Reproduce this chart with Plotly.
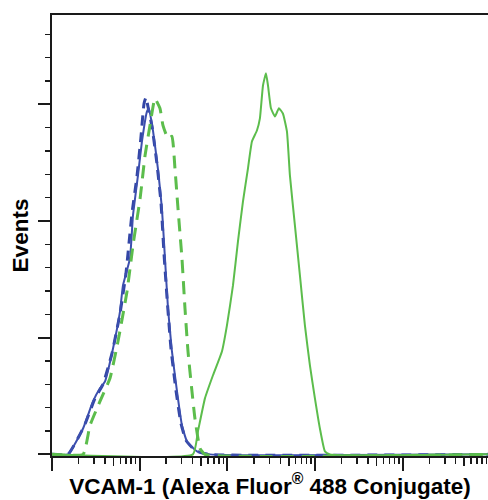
import plotly.graph_objects as go

# ---- data (fluorescence intensity, events) ----
blue_solid_x = [1, 1.52, 2.26, 2.93, 3.52, 4.02, 4.96, 5.96, 6.44, 7.74, 8.38, 9.55, 10.6, 12.1, 12.7,
                14.2, 16.1, 17.9, 19.4, 21.0, 23.3, 26.6, 30.3, 34.5, 44.9, 63.1, 93000]
blue_solid_y = [0, 0, 11.1, 22.7, 28.3, 31.3, 45.4, 61.3, 72.4, 84.0, 102.4, 119.6, 134.1, 147.0, 148.3,
                138.4, 122.6, 105.4, 84.0, 62.6, 44.1, 27.0, 12.4, 5.6, 1.3, 0, 0]

blue_dash_x = [1, 1.52, 2.32, 3.09, 3.81, 4.83, 5.96, 6.97, 8.16, 9.30, 10.3, 11.2, 11.8, 12.4, 13.8,
               15.7, 17.5, 18.9, 20.5, 22.7, 25.9, 29.5, 33.7, 42.6, 60.0, 93000]
blue_dash_y = [0, 0, 12.0, 24.0, 30.0, 43.3, 60.4, 77.6, 103.3, 119.1, 135.4, 150.4, 153.0, 149.1, 140.5,
               124.7, 107.6, 86.1, 66.8, 45.4, 27.4, 13.3, 6.0, 1.7, 0, 0]

green_dash_x = [1, 2.26, 2.71, 3.52, 4.58, 5.65, 7.16, 8.38, 10.1, 11.5, 13.1, 14.9, 17.0, 18.4, 21.0,
                23.3, 25.2, 27.3, 30.3, 32.8, 35.5, 39.4, 42.6, 48.6, 55.4, 93000]
green_dash_y = [0, 0, 12.4, 22.7, 32.6, 48.4, 69.8, 89.6, 109.7, 128.1, 141.0, 152.5, 148.3, 141.0, 135.4,
                136.3, 122.6, 105.4, 84.0, 62.6, 44.1, 27.0, 15.4, 2.6, 0, 0]

green_solid_x = [1, 40.4, 46.1, 55.4, 68.4, 86.5, 98.7, 115.6, 131.8, 150.3, 171.4, 190.1, 216.8, 234.4,
                 254.1, 274.8, 289.7, 313.3, 347.6, 386.4, 428.6, 476.4, 515.2, 587.5, 669.9, 763.8,
                 871.0, 993.1, 1132, 1291, 1472, 93000]
green_solid_y = [0, 0, 9.9, 24.0, 33.9, 44.1, 55.3, 72.4, 91.3, 108.4, 122.6, 134.1, 138.8, 144.0,
                 158.1, 163.3, 158.1, 148.3, 144.8, 148.3, 146.1, 138.4, 119.6, 98.1, 76.7, 55.3,
                 38.1, 24.0, 11.1, 1.3, 0, 0]

mid_tick_vals = [5, 50, 500, 5000, 50000]

x_title = "VCAM-1 (Alexa Fluor<sup>®</sup> 488 Conjugate)"
y_title = "Events"

BLUE = "#3c4fae"
BLUE_D = "#3346a6"
GREEN = "#5cbd4c"
FONT = "Liberation Sans, Arial, sans-serif"
AX = "#1a1a1a"

fig = go.Figure()
fig.add_trace(go.Scatter(x=blue_dash_x, y=blue_dash_y, mode="lines",
                         line=dict(color=BLUE_D, width=3, dash="10px,7px", shape="spline", smoothing=0.4)))
fig.add_trace(go.Scatter(x=blue_solid_x, y=blue_solid_y, mode="lines",
                         line=dict(color=BLUE, width=2, shape="spline", smoothing=0.4)))
fig.add_trace(go.Scatter(x=green_dash_x, y=green_dash_y, mode="lines",
                         line=dict(color=GREEN, width=3, dash="13px,8px", shape="spline", smoothing=0.4)))
fig.add_trace(go.Scatter(x=green_solid_x, y=green_solid_y, mode="lines",
                         line=dict(color=GREEN, width=2, shape="spline", smoothing=0.4)))
# invisible trace to carry medium ticks at 5x decades
fig.add_trace(go.Scatter(x=[1, 93000], y=[0, 0], mode="lines", line=dict(width=0),
                         xaxis="x2", hoverinfo="skip"))

fig.update_layout(
    width=488, height=500,
    margin=dict(l=52, r=0, t=15, b=44),
    paper_bgcolor="white", plot_bgcolor="white",
    showlegend=False,
    font=dict(family=FONT, color="black"),
    xaxis=dict(
        type="log", range=[0, 4.97], automargin=False,
        showline=True, linecolor=AX, linewidth=2, mirror=True,
        showgrid=False, zeroline=False,
        ticks="outside", ticklen=13, tickwidth=2, tickcolor=AX,
        dtick=1, showticklabels=False,
        minor=dict(ticks="outside", ticklen=6, tickwidth=1.5, tickcolor=AX, dtick="D1", showgrid=False),
        title=dict(text="<b>" + x_title + "</b>", font=dict(size=22.5, family=FONT), standoff=8),
    ),
    xaxis2=dict(
        type="log", range=[0, 4.97], overlaying="x", anchor="y", side="bottom", automargin=False,
        showline=False, showgrid=False, zeroline=False,
        tickmode="array", tickvals=mid_tick_vals, ticks="outside", ticklen=9, tickwidth=1.5,
        tickcolor=AX, showticklabels=False,
    ),
    yaxis=dict(
        range=[-0.7, 188.3], automargin=False,
        showline=True, linecolor=AX, linewidth=2,
        showgrid=False, zeroline=False,
        ticks="outside", ticklen=12, tickwidth=2, tickcolor=AX,
        tick0=0, dtick=50, showticklabels=False,
        minor=dict(ticks="outside", ticklen=5, tickwidth=1.5, tickcolor=AX, tick0=0, dtick=10, showgrid=False),
        title=dict(text="<b>" + y_title + "</b>", font=dict(size=22.5, family=FONT), standoff=3),
    ),
)

fig.write_html(
    "out.html",
    config={"displayModeBar": False, "staticPlot": True},
    post_script="document.body.style.margin='0';document.body.style.overflow='hidden';",
)
